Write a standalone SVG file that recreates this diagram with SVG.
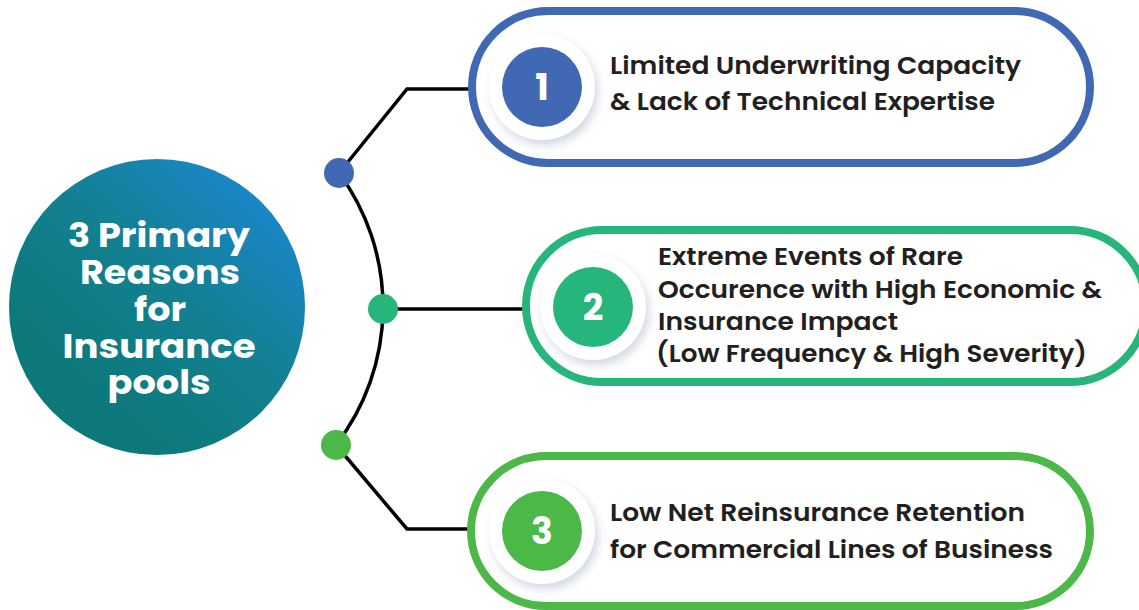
<svg xmlns="http://www.w3.org/2000/svg" width="1139" height="610" viewBox="0 0 1139 610">
<defs>
<linearGradient id="bigGrad" x1="0.85" y1="0.12" x2="0.25" y2="0.8">
<stop offset="0" stop-color="#1b86c9"/>
<stop offset="0.5" stop-color="#12808f"/>
<stop offset="1" stop-color="#0c787a"/>
</linearGradient>
<filter id="halo" x="-40%" y="-40%" width="180%" height="180%">
<feDropShadow dx="3" dy="5" stdDeviation="5" flood-color="#9aa6c0" flood-opacity="0.45"/>
</filter>
<style>
.pill{fill:#fff;stroke-width:8}
.conn{fill:none;stroke:#000;stroke-width:3.5}
.num{font-family:"Poppins","Open Sans","Liberation Sans",sans-serif;font-weight:700;font-size:36px;fill:#fff;text-anchor:middle}
.item{font-family:"Poppins","Inter","Liberation Sans",sans-serif;font-weight:600;font-size:25px;fill:#231f20}
.title{font-family:"Poppins","Open Sans","Liberation Sans",sans-serif;font-weight:700;font-size:34px;fill:#fff;text-anchor:middle}
.blue{stroke:#4169b3}.b{fill:#4169b3}
.teal{stroke:#26b57b}.t{fill:#26b57b}
.green{stroke:#4cb848}.g{fill:#4cb848}
</style>
</defs>
<rect width="1139" height="610" fill="#fff"/>
<g id="connectors">
<path class="conn" d="M339,173 A226,226 0 0 1 336,445"/>
<polyline class="conn" points="339,173 407,89 470,89"/>
<polyline class="conn" points="383,309 524,309"/>
<polyline class="conn" points="336,445 407,529 470,529"/>
<circle class="b" cx="339" cy="173" r="15"/>
<circle class="t" cx="383" cy="309" r="15"/>
<circle class="g" cx="336" cy="445" r="15"/>
</g>
<g id="center">
<circle cx="157" cy="307" r="148" fill="url(#bigGrad)"/>
<text class="title" x="159" y="247" textLength="182" lengthAdjust="spacingAndGlyphs">3 Primary</text>
<text class="title" x="160" y="284" textLength="160" lengthAdjust="spacingAndGlyphs">Reasons</text>
<text class="title" x="160" y="321" textLength="52" lengthAdjust="spacingAndGlyphs">for</text>
<text class="title" x="159" y="358" textLength="193" lengthAdjust="spacingAndGlyphs">Insurance</text>
<text class="title" x="159" y="394" textLength="103" lengthAdjust="spacingAndGlyphs">pools</text>
</g>
<g id="item1">
<rect class="pill blue" x="472" y="11" width="618" height="152" rx="76" ry="76"/>
<circle cx="542" cy="87" r="53" fill="#fff" filter="url(#halo)"/>
<circle class="b" cx="542" cy="87" r="40"/>
<text class="num" x="542" y="100">1</text>
<text class="item" x="610" y="74" textLength="411" lengthAdjust="spacingAndGlyphs">Limited Underwriting Capacity</text>
<text class="item" x="610" y="110" textLength="385" lengthAdjust="spacingAndGlyphs">&amp; Lack of Technical Expertise</text>
</g>
<g id="item2">
<rect class="pill teal" x="526" y="230" width="620" height="152" rx="76" ry="76"/>
<circle cx="593" cy="307" r="53" fill="#fff" filter="url(#halo)"/>
<circle class="t" cx="593" cy="307" r="40"/>
<text class="num" x="593" y="320">2</text>
<text class="item" x="658" y="265" textLength="305" lengthAdjust="spacingAndGlyphs">Extreme Events of Rare</text>
<text class="item" x="658" y="298" textLength="444" lengthAdjust="spacingAndGlyphs">Occurence with High Economic &amp;</text>
<text class="item" x="658" y="330" textLength="240" lengthAdjust="spacingAndGlyphs">Insurance Impact</text>
<text class="item" x="656" y="362" textLength="431" lengthAdjust="spacingAndGlyphs">(Low Frequency &amp; High Severity)</text>
</g>
<g id="item3">
<rect class="pill green" x="471" y="456" width="619" height="150" rx="75" ry="75"/>
<circle cx="542" cy="531" r="53" fill="#fff" filter="url(#halo)"/>
<circle class="g" cx="542" cy="531" r="40"/>
<text class="num" x="542" y="544">3</text>
<text class="item" x="610" y="521" textLength="415" lengthAdjust="spacingAndGlyphs">Low Net Reinsurance Retention</text>
<text class="item" x="610" y="558" textLength="443" lengthAdjust="spacingAndGlyphs">for Commercial Lines of Business</text>
</g>
</svg>
